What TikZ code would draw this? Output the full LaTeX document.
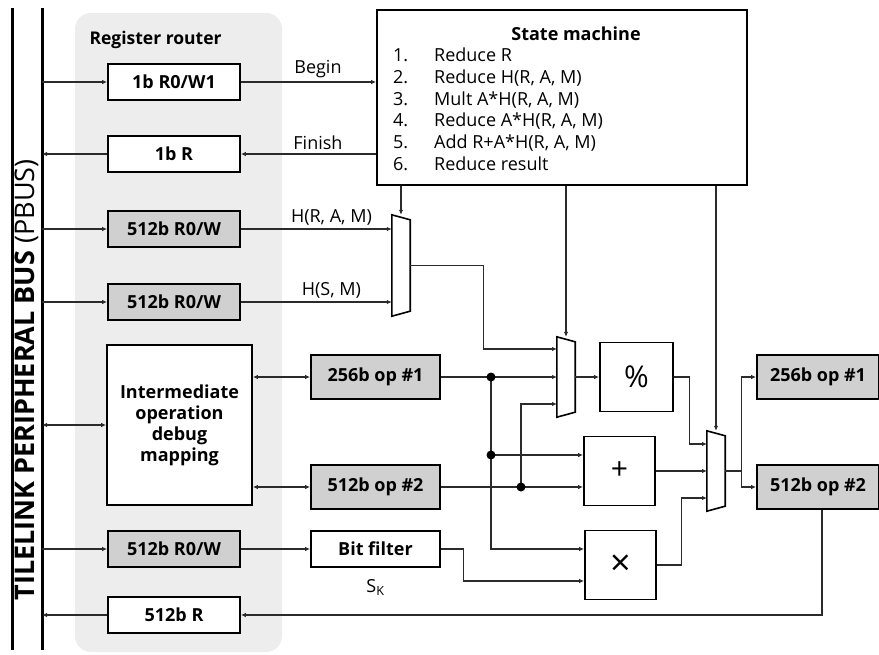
\documentclass[tikz,border=0pt]{standalone}
\usepackage{fontspec}
\setmainfont{Open Sans}
\usetikzlibrary{calc}
\usetikzlibrary{positioning}
\usetikzlibrary{arrows.meta}
\usepackage{xcolor}

\definecolor{routerbg}{HTML}{EDEDED}
\definecolor{regfill}{HTML}{D0D0D0}
\definecolor{wirecol}{HTML}{2B2B2B}

\newcommand{\drawmux}[1]{%
  \draw[line width=1.6pt] (#1.north west) -- ([yshift=-5pt]#1.north east)
    -- ([yshift=5pt]#1.south east) -- (#1.south west) -- cycle;}

\begin{document}
\begin{tikzpicture}[x=1pt, y=-1pt, >={Latex[length=5pt,width=4.5pt]},
  every node/.style={font=\fontsize{18}{21.8}\selectfont},
  wire/.style={line width=1.1pt, draw=wirecol},
  reg/.style={draw, line width=1.8pt, fill=white, minimum width=132pt, minimum height=36pt,
    inner sep=0pt, font=\bfseries\fontsize{18}{21}\selectfont},
  greyreg/.style={reg, fill=regfill},
  opreg/.style={reg, fill=regfill, minimum width=129pt, minimum height=44pt},
  oper/.style={draw, line width=1.8pt, fill=white, minimum width=71pt, minimum height=69pt,
    inner sep=0pt, font=\fontsize{30}{32}\selectfont},
  mux/.style={minimum width=18pt, minimum height=#1, inner sep=0pt}]
\useasboundingbox (0,0) rectangle (879,654);

\fill[routerbg, rounded corners=16pt] (75,13) rectangle (282,652);
\draw[line width=3pt] (12,8) -- (12,650);
\draw[line width=3pt] (42,8) -- (42,650);
\coordinate (bus) at (42,0);
\node[rotate=90, font=\fontsize{27}{29}\selectfont] (buslabel) at (26.5,380) {\bfseries TILELINK PERIPHERAL BUS \mdseries(PBUS)};
\node[anchor=west, font=\bfseries\fontsize{17.5}{21}\selectfont] (routerlabel) at (86,40) {Register router};

\node[reg] (rA) at (174,82) {1b R0/W1};
\node[reg] (rB) at (174,154) {1b R};
\node[greyreg] (rC) at (174,229) {512b R0/W};
\node[greyreg] (rD) at (174,302) {512b R0/W};
\node[reg, minimum width=145pt, minimum height=160pt, align=center] (dbg) at (179.5,425) {Intermediate\\operation\\debug\\mapping};
\node[greyreg] (rE) at (174,549) {512b R0/W};
\node[reg] (rF) at (174,615) {512b R};

\node[draw, line width=1.8pt, fill=white, minimum width=370pt, minimum height=175pt] (sm) at (562,97.5) {};
\node[font=\bfseries\fontsize{18}{21}\selectfont] (smtitle) at (576,34) {State machine};
\node[anchor=north west, inner sep=0pt] (smlist) at (393,46) {%
  \begin{tabular}{@{}p{41pt}@{}l@{}}
  1. & Reduce R\\
  2. & Reduce H(R, A, M)\\
  3. & Mult A*H(R, A, M)\\
  4. & Reduce A*H(R, A, M)\\
  5. & Add R+A*H(R, A, M)\\
  6. & Reduce result
  \end{tabular}};

\node[mux=101pt] (mux1) at (401,265.5) {};
\node[mux=80pt] (mux2) at (566,377) {};
\node[mux=80pt] (mux3) at (716,471) {};
\drawmux{mux1}
\drawmux{mux2}
\drawmux{mux3}
\coordinate (m2a) at (557,349);
\coordinate (m2b) at (557,377);
\coordinate (m2c) at (557,404);
\coordinate (m3a) at (707,444);
\coordinate (m3b) at (707,471);
\coordinate (m3c) at (707,498);

\node[opreg] (op1) at (375.5,377) {256b op \#1};
\node[opreg] (op2) at (375.5,487) {512b op \#2};
\node[reg, minimum width=129pt] (bf) at (375.5,549) {Bit filter};
\node (sk) [below = 8pt of bf] {S\textsubscript{K}};

\node[oper, minimum width=73pt] (mod) at (636.5,377) {\%};
\node[oper] (add) at (619.5,471) {+};
\node[oper, font=\fontsize{36}{38}\selectfont] (mul) at (620.5,565) {×};

\node[opreg, minimum width=122pt] (out1) at (818,377) {256b op \#1};
\node[opreg, minimum width=122pt] (out2) at (818,487) {512b op \#2};

\coordinate (j1) at (491,377);
\coordinate (j2) at (491,455);
\coordinate (j3) at (521,487);

\draw[wire,->] (bus |- rA) -- (rA);
\draw[wire,->] (rB) -- (bus |- rB);
\draw[wire,->] (bus |- rC) -- (rC);
\draw[wire,->] (bus |- rD) -- (rD);
\draw[wire,<->] (bus |- dbg) -- (dbg);
\draw[wire,->] (bus |- rE) -- (rE);
\draw[wire,->] (rF) -- (bus |- rF);

\draw[wire,->] (rA) -- node[above, pos=0.57]{Begin} (rA -| sm.west);
\draw[wire,->] (rB -| sm.west) -- node[above, pos=0.43]{Finish} (rB);
\draw[wire,->] (rC) -- node[above, pos=0.6]{H(R, A, M)} (rC -| mux1.west);
\draw[wire,->] (rD) -- node[above, pos=0.6]{H(S, M)} (rD -| mux1.west);
\draw[wire,->] (sm.south -| mux1) -- (mux1.north);
\draw[wire,->] (mux1.east) -- ++(73,0) |- (m2a);

\draw[wire,<->] (dbg.east |- op1) -- (op1);
\draw[wire,<->] (dbg.east |- op2) -- (op2);
\draw[wire,->] (op1) -- (m2b);
\draw[wire,->] (j1) |- ([yshift=16pt]mul.west);
\draw[wire,->] (j2) -- ([yshift=16pt]add.west);
\draw[wire,->] (op2) -- ([yshift=-16pt]add.west);
\draw[wire,->] (j3) |- (m2c);
\draw[wire,->] (rE) -- (bf);
\draw[wire,->] (bf.east) -- ++(23,0) |- ([yshift=-16pt]mul.west);
\fill (j1) circle (4.5pt);
\fill (j2) circle (4.5pt);
\fill (j3) circle (4.5pt);

\draw[wire,->] (sm.south -| mux2) -- (mux2.north);
\draw[wire,->] (mux2.east) -- (mod.west);
\draw[wire,->] (mod.east) -- ++(16,0) |- (m3a);
\draw[wire,->] (add.east) -- (m3b);
\draw[wire,->] (mul.east) -- ++(25,0) |- (m3c);
\draw[wire,->] (sm.south -| mux3) -- (mux3.north);
\draw[wire,->] (mux3.east) -- ++(16,0) |- (out1);
\draw[wire,->] (mux3.east) -- ++(16,0) |- (out2);
\draw[wire,->] ([xshift=4pt]out2.south) |- (rF);
\end{tikzpicture}
\end{document}
